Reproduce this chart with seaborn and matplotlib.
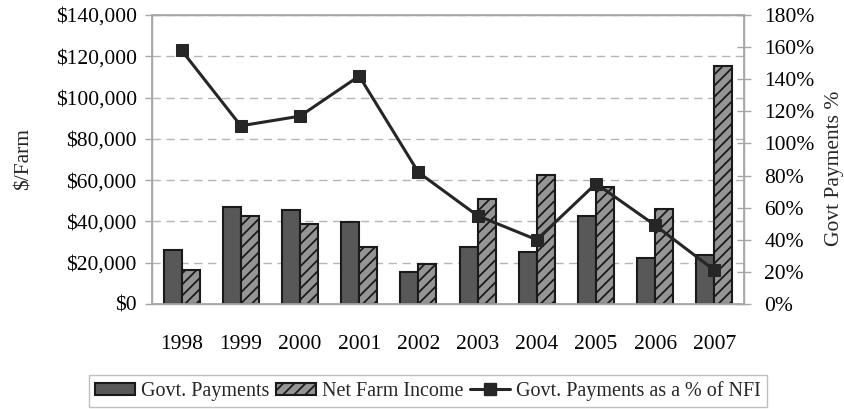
import numpy as np
import pandas as pd
import matplotlib
matplotlib.use("Agg")
import matplotlib.pyplot as plt
from matplotlib.patches import Patch
from matplotlib.lines import Line2D
from matplotlib.ticker import FuncFormatter, MultipleLocator, FixedLocator
import seaborn as sns

# Per-farm government payments, net farm income, and payments as a share of NFI
years = ["1998", "1999", "2000", "2001", "2002", "2003", "2004", "2005", "2006", "2007"]
govt_payments = [26200, 47000, 45500, 39600, 15700, 27600, 25300, 42600, 22400, 23900]
net_farm_income = [16500, 42600, 38900, 27600, 19200, 50700, 62600, 56700, 46200, 115300]
govt_pct_of_nfi = [158, 111, 117, 142, 82, 55, 40, 75, 49, 21]

series_names = ["Govt. Payments", "Net Farm Income", "Govt. Payments as a % of NFI"]

sns.set_theme(style="white")
plt.rcParams["font.family"] = ["Liberation Serif", "DejaVu Serif"]
plt.rcParams["hatch.linewidth"] = 1.3

df = pd.DataFrame({
    "Year": years * 2,
    "Series": [series_names[0]] * len(years) + [series_names[1]] * len(years),
    "Value": govt_payments + net_farm_income,
})

GOVT_COLOR = "#585858"
NFI_COLOR = "#959595"
EDGE = "#1a1a1a"
LINE_COLOR = "#262626"
AXIS_GRAY = "#a6a6a6"
FS = 15.5

fig = plt.figure(figsize=(8.45, 4.09), dpi=100)
ax = fig.add_axes([152 / 845, 1 - 304 / 409, (744 - 152) / 845, (304 - 15) / 409])

sns.barplot(data=df, x="Year", y="Value", hue="Series", order=years,
            palette=[GOVT_COLOR, NFI_COLOR], width=0.61, gap=0,
            edgecolor=EDGE, linewidth=1.5, legend=False, ax=ax)

for bar in ax.containers[1]:
    bar.set_hatch("///")

ax.set_xlim(-0.5, len(years) - 0.5)
ax.set_ylim(0, 140000)
ax.yaxis.set_major_locator(MultipleLocator(20000))
ax.yaxis.set_major_formatter(FuncFormatter(lambda v, p: f"${v:,.0f}"))
ax.grid(axis="y", color="#b5b5b5", linestyle=(0, (6, 4)), linewidth=1)
ax.set_axisbelow(True)

for side in ["left", "right", "top", "bottom"]:
    ax.spines[side].set_visible(True)
    ax.spines[side].set_color(AXIS_GRAY)
    ax.spines[side].set_linewidth(1)

ax.tick_params(axis="y", which="major", direction="out", length=5, width=1,
               color=AXIS_GRAY, pad=6, labelsize=FS, labelcolor="black")
ax.tick_params(axis="x", which="major", length=0, pad=22, labelsize=FS,
               labelcolor="black")
ax.xaxis.set_minor_locator(FixedLocator(np.arange(-0.5, len(years), 1.0)))
ax.tick_params(axis="x", which="minor", direction="inout", length=11, width=1,
               color=AXIS_GRAY)
ax.set_xlabel("")
ax.set_ylabel("$/Farm", fontsize=FS)
ax.yaxis.set_label_coords(-0.200, 0.5)

ax2 = ax.twinx()
sns.lineplot(x=np.arange(len(years)), y=govt_pct_of_nfi, ax=ax2, color=LINE_COLOR,
             linewidth=2.2, marker="s", markersize=9, markeredgecolor=LINE_COLOR,
             markerfacecolor=LINE_COLOR)
ax2.set_ylim(0, 180)
ax2.yaxis.set_major_locator(MultipleLocator(20))
ax2.yaxis.set_major_formatter(FuncFormatter(lambda v, p: f"{v:.0f}%"))
ax2.tick_params(axis="y", direction="inout", length=9.5, width=1, color=AXIS_GRAY,
                pad=10, labelsize=FS, labelcolor="black")
for side in ["left", "right", "top", "bottom"]:
    ax2.spines[side].set_color(AXIS_GRAY)
ax2.set_ylabel("Govt Payments %", fontsize=FS)
ax2.yaxis.set_label_coords(1.137, 0.47)
ax2.grid(False)

handles = [
    Patch(facecolor=GOVT_COLOR, edgecolor=EDGE, linewidth=1.5),
    Patch(facecolor=NFI_COLOR, edgecolor=EDGE, linewidth=1.5, hatch="///"),
    Line2D([0], [0], color=LINE_COLOR, linewidth=2.2, marker="s", markersize=9),
]
leg = fig.legend(handles, series_names, loc="center", ncol=3,
                 bbox_to_anchor=(428 / 845, 1 - 391 / 409), fontsize=14.5,
                 frameon=True, fancybox=False, edgecolor="#b0b0b0",
                 handlelength=2.0, handleheight=0.55, handletextpad=0.3,
                 columnspacing=0.3, borderpad=0.3)
leg.get_frame().set_linewidth(1)

fig.savefig("out.png", dpi=100)
